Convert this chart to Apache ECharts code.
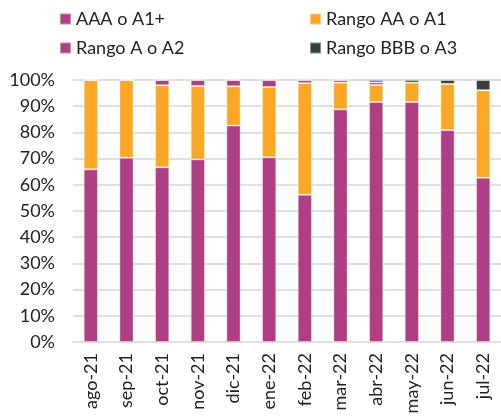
<!DOCTYPE html>
<html>
<head>
<meta charset="utf-8">
<script src="https://cdn.jsdelivr.net/npm/echarts@6/dist/echarts.min.js"></script>
<style>
  html, body { margin: 0; padding: 0; background: #fff; }
  #chart { width: 501px; height: 417px; }
</style>
</head>
<body>
<div id="chart"></div>
<script>
const months = ['ago-21', 'sep-21', 'oct-21', 'nov-21', 'dic-21', 'ene-22', 'feb-22', 'mar-22', 'abr-22', 'may-22', 'jun-22', 'jul-22']
const aaa = [65.9, 70.3, 66.7, 69.7, 82.6, 70.5, 56.2, 88.8, 91.6, 91.6, 80.9, 62.7]
const aa = [34.1, 29.7, 31.3, 28.0, 15.0, 26.8, 42.6, 10.2, 6.5, 7.4, 17.6, 33.4]
const a = [0, 0, 2.0, 2.3, 2.4, 2.7, 1.2, 1.0, 1.0, 0, 0, 0]
const bbb = [0, 0, 0, 0, 0, 0, 0, 0, 0.9, 1.0, 1.5, 3.9]
const yTicks = [0, 100, 10]

const chart = echarts.init(document.getElementById('chart'))

const font = 'Lato, "Noto Sans", sans-serif'
const colors = {
  aaa: '#ad3f82',
  aa: '#fca826',
  a: '#ad3f82',
  bbb: '#373f43',
}

function bar(name, data, color) {
  return {
    name,
    type: 'bar',
    stack: 'total',
    data,
    barWidth: '40%',
    itemStyle: { color, borderColor: 'rgba(255,255,255,0.4)', borderWidth: 1 },
  }
}

function legendAt(name, left, top) {
  return {
    data: [name],
    left, top,
    itemWidth: 11, itemHeight: 11,
    icon: 'rect',
    textStyle: { fontFamily: font, fontSize: 18, color: '#222' },
    itemGap: 4,
  }
}

chart.setOption({
  animation: false,
  legend: [
    legendAt('AAA o A1+', 54, 5),
    legendAt('Rango AA o A1', 304, 5),
    legendAt('Rango A o A2', 54, 34),
    legendAt('Rango BBB o A3', 304, 34),
  ],
  grid: { left: 73, right: -4, top: 80, bottom: 75 },
  xAxis: {
    type: 'category',
    data: months,
    axisLine: { lineStyle: { color: '#e0e0e0', width: 2 } },
    axisTick: { show: false },
    axisLabel: { rotate: 90, fontFamily: font, fontSize: 18, color: '#222', margin: 11 },
  },
  yAxis: {
    type: 'value',
    min: yTicks[0],
    max: yTicks[1],
    interval: yTicks[2],
    axisLine: { show: false },
    axisTick: { show: false },
    axisLabel: { formatter: '{value}%', fontFamily: font, fontSize: 18, color: '#222', margin: 18 },
    splitLine: { lineStyle: { color: '#e0e0e0', width: 2 } },
  },
  series: [
    bar('AAA o A1+', aaa, colors.aaa),
    bar('Rango AA o A1', aa, colors.aa),
    bar('Rango A o A2', a, colors.a),
    bar('Rango BBB o A3', bbb, colors.bbb),
  ],
})
</script>
</body>
</html>
